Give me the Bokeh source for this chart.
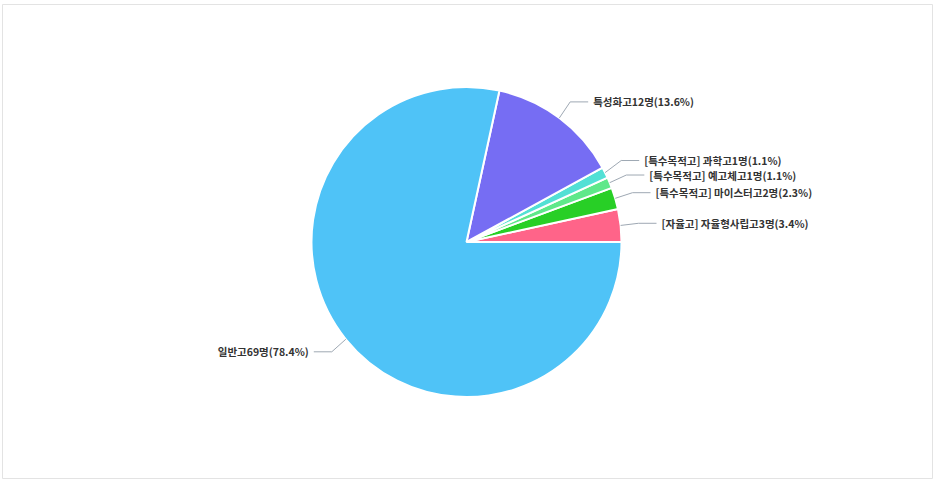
import math
from bokeh.plotting import figure
from bokeh.models import Range1d, ColumnDataSource
from bokeh.core.properties import value
from bokeh.embed import file_html
from bokeh.resources import INLINE

# ---- data (counter-clockwise from 3 o'clock) ----
labels = ["[자율고] 자율형사립고", "[특수목적고] 마이스터고", "[특수목적고] 예고체고",
          "[특수목적고] 과학고", "특성화고", "일반고"]
counts = [3, 2, 1, 1, 12, 69]
colors = ["#ff6489", "#28cf26", "#5fe88a", "#52e0d5", "#766df3", "#4fc3f7"]

FW, FH = 930, 474
p = figure(width=934, height=480, output_backend="svg", toolbar_location=None,
           x_range=Range1d(0, FW), y_range=Range1d(0, FH),
           x_axis_type=None, y_axis_type=None,
           min_border_left=2, min_border_top=4, min_border_right=2, min_border_bottom=2)
p.grid.visible = False
p.outline_line_color = "#e3e3e3"
p.outline_line_width = 1
p.background_fill_color = "white"

cx, cy, r = 464, 236.5, 155
total = sum(counts)
starts, ends, mids = [], [], []
acc = 0.0
for c in counts:
    a0 = 2 * math.pi * acc / total
    acc += c
    a1 = 2 * math.pi * acc / total
    starts.append(a0); ends.append(a1); mids.append((a0 + a1) / 2)

src = ColumnDataSource(dict(start=starts, end=ends, color=colors))
p.wedge(x=cx, y=cy, radius=r, start_angle="start", end_angle="end",
        direction="anticlock", fill_color="color", line_color="white",
        line_width=2, source=src)

# ---- label layout ----
label_dist = r + 20
break_dist = r + 18
horiz = 18
pad = 5
min_gap = 14.5

texts = [f"{l}{c}명({100*c/total:.1f}%)" for l, c in zip(labels, counts)]
ly = [cy + label_dist * math.sin(m) for m in mids]
right = [math.cos(m) >= 0 for m in mids]

# anti-overlap on right side: bottom to top
ridx = sorted([i for i in range(len(mids)) if right[i]], key=lambda i: ly[i])
prev = None
for i in ridx:
    if prev is not None and ly[i] < prev + min_gap:
        ly[i] = prev + min_gap
    prev = ly[i]

xs, ys, tx, ty, ta = [], [], [], [], []
for i, m in enumerate(mids):
    ex, ey = cx + r * math.cos(m), cy + r * math.sin(m)
    bx = cx + break_dist * math.cos(m)
    sgn = 1 if right[i] else -1
    lx = bx + sgn * horiz
    xs.append([ex, bx, lx]); ys.append([ey, ly[i], ly[i]])
    tx.append(lx + sgn * pad); ty.append(ly[i])
    ta.append("left" if right[i] else "right")

p.multi_line(xs=xs, ys=ys, line_color="#9ea8b3", line_width=1)
p.text(x=tx, y=ty, text=texts, text_align=ta, text_baseline="middle",
       text_font=value("Noto Sans CJK KR"), text_font_style="bold",
       text_font_size="10.5px", text_color="#333333")

open("out.html", "w").write(file_html(p, INLINE))
